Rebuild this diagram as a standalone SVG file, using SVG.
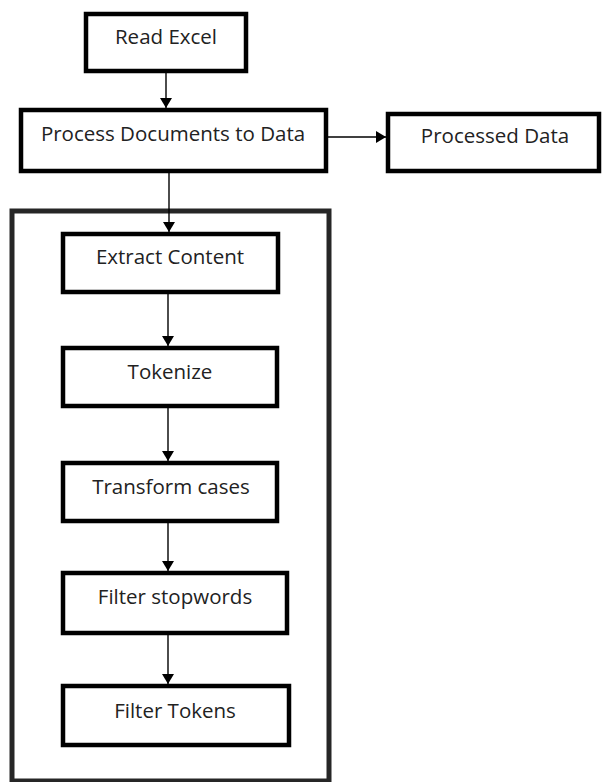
<svg xmlns="http://www.w3.org/2000/svg" width="602" height="782" viewBox="0 0 602 782">
<defs>
<style>
.box{fill:#fff;stroke:#000;stroke-width:4.5}
.cont{fill:none;stroke:#262626;stroke-width:5}
.lbl{font-family:"Open Sans","Noto Sans",sans-serif;font-size:20.5px;fill:#222;text-anchor:middle}
.edge{stroke:#000;stroke-width:1.4;fill:none;marker-end:url(#arr)}
</style>
<marker id="arr" markerUnits="userSpaceOnUse" viewBox="0 0 10 12" refX="10" refY="6" markerWidth="10" markerHeight="12" orient="auto">
<path d="M0,0 L10,6 L0,12 z" fill="#000"/>
</marker>
</defs>
<rect fill="#fff" width="602" height="782"/>
<g id="container"><rect class="cont" x="12" y="211" width="317" height="570"/></g>
<g id="connectors">
<line class="edge" x1="166" y1="73" x2="166" y2="108"/>
<line class="edge" x1="328" y1="137" x2="386" y2="137"/>
<line class="edge" x1="169" y1="173" x2="169" y2="232"/>
<line class="edge" x1="168" y1="294" x2="168" y2="346"/>
<line class="edge" x1="168" y1="408" x2="168" y2="461"/>
<line class="edge" x1="168" y1="523" x2="168" y2="571"/>
<line class="edge" x1="168" y1="635" x2="168" y2="684"/>
</g>
<g id="read-excel"><rect class="box" x="86" y="14" width="160" height="57"/><text class="lbl" x="166" y="44">Read Excel</text></g>
<g id="process-documents"><rect class="box" x="21" y="110" width="305" height="61"/><text class="lbl" x="173" y="141">Process Documents to Data</text></g>
<g id="processed-data"><rect class="box" x="388" y="114" width="211" height="57"/><text class="lbl" x="495" y="143">Processed Data</text></g>
<g id="extract-content"><rect class="box" x="63" y="234" width="215" height="58"/><text class="lbl" x="170" y="264">Extract Content</text></g>
<g id="tokenize"><rect class="box" x="63" y="348" width="214" height="58"/><text class="lbl" x="170" y="379">Tokenize</text></g>
<g id="transform-cases"><rect class="box" x="63" y="463" width="214" height="58"/><text class="lbl" x="171" y="494">Transform cases</text></g>
<g id="filter-stopwords"><rect class="box" x="63" y="573" width="224" height="60"/><text class="lbl" x="175" y="604">Filter stopwords</text></g>
<g id="filter-tokens"><rect class="box" x="63" y="686" width="226" height="59"/><text class="lbl" x="175" y="718">Filter Tokens</text></g>
</svg>
